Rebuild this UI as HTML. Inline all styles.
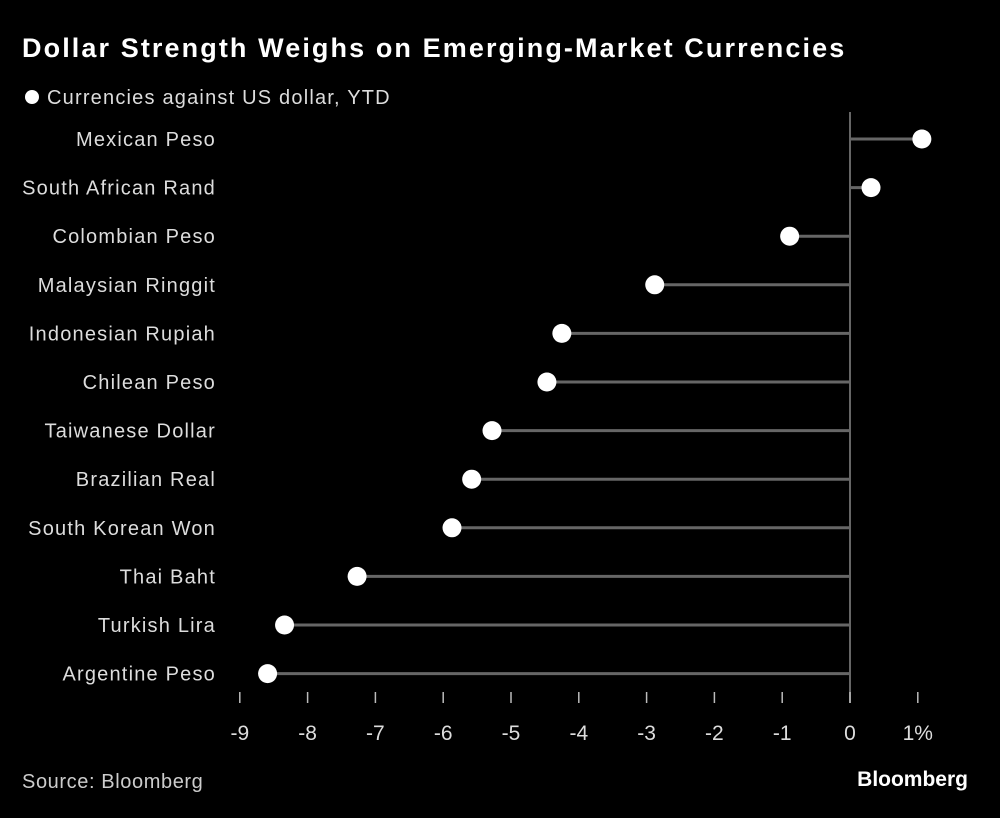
<!DOCTYPE html>
<html><head><meta charset="utf-8"><style>
html,body{margin:0;padding:0;background:#000;}
body{width:1000px;height:813px;overflow:hidden;font-family:"Liberation Sans",sans-serif;}
</style></head><body>
<svg width="1000" height="813" xmlns="http://www.w3.org/2000/svg">
<text x="22" y="57" fill="#fff" font-size="27" font-weight="bold" letter-spacing="2.1" font-family="Liberation Sans, sans-serif">Dollar Strength Weighs on Emerging-Market Currencies</text>
<circle cx="32" cy="97" r="7" fill="#fff"/>
<text x="47" y="104" fill="#ddd" font-size="20" letter-spacing="1.2">Currencies against US dollar, YTD</text>
<g id="plot"></g>
<text x="22" y="788" fill="#ccc" font-size="20" letter-spacing="0.6">Source: Bloomberg</text>
<text x="968" y="786" fill="#fff" font-size="21" font-weight="bold" text-anchor="end">Bloomberg</text>
</svg>
<script>
const categories=["Mexican Peso","South African Rand","Colombian Peso","Malaysian Ringgit","Indonesian Rupiah","Chilean Peso","Taiwanese Dollar","Brazilian Real","South Korean Won","Thai Baht","Turkish Lira","Argentine Peso"];
const values=[1.06,0.31,-0.89,-2.88,-4.25,-4.47,-5.28,-5.58,-5.87,-7.27,-8.34,-8.59];
const tickValues=[-9,-8,-7,-6,-5,-4,-3,-2,-1,0,1];
const tickLabels=["-9","-8","-7","-6","-5","-4","-3","-2","-1","0","1%"];
const NS="http://www.w3.org/2000/svg";
const g=document.getElementById('plot');
const xs=v=>850+(v)*67.8;
const ys=i=>139+i*48.6;
function mk(t,a){const e=document.createElementNS(NS,t);for(const k in a)e.setAttribute(k,a[k]);g.appendChild(e);return e;}
let z=mk('line',{x1:xs(0),x2:xs(0),y1:112,y2:703,stroke:'#666','stroke-width':2});


tickValues.forEach((v,i)=>{
 let t=mk('line',{x1:xs(v),x2:xs(v),y1:692,y2:703,stroke:'#bbb','stroke-width':1.5});
 
 
 let l=mk('text',{x:xs(v),y:740,fill:'#ddd','font-size':21,'text-anchor':'middle'});
 l.textContent=tickLabels[i];
 
 
});
categories.forEach((c,i)=>{
 let y=ys(i);
 let l=mk('text',{x:216,y:y+7,fill:'#ddd','font-size':20,'letter-spacing':1.2,'text-anchor':'end'});
 l.textContent=c;
 
 
 let s=mk('line',{x1:xs(0),x2:xs(values[i]),y1:y,y2:y,stroke:'#666','stroke-width':3});
 
 
 let d=mk('circle',{cx:xs(values[i]),cy:y,r:9.5,fill:'#fff'});
 
 
});
</script>
</body></html>
